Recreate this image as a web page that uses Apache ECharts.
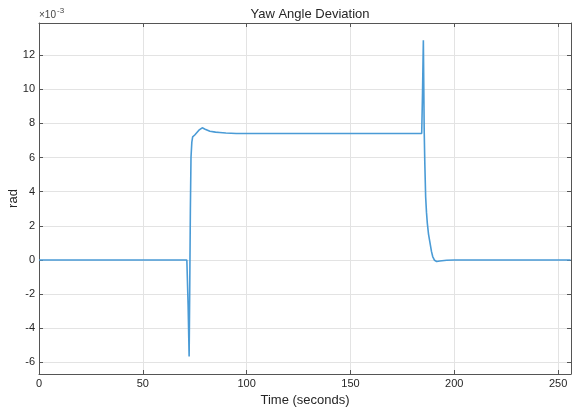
<!DOCTYPE html>
<html>
<head>
<meta charset="utf-8">
<script src="https://cdn.jsdelivr.net/npm/echarts@6/dist/echarts.min.js"></script>
<style>
  html, body { margin: 0; padding: 0; background: #fff; }
  #chart { width: 572px; height: 411px; }
</style>
</head>
<body>
<div id="chart"></div>
<script>
// Yaw angle deviation response (values in units of 1e-3 rad)
const timeSec = [0, 71.2, 71.8, 72.3, 72.6, 72.9, 73.2, 73.6, 74.0, 75.0, 75.8, 77.0, 78.6, 80.0, 82.3, 85.0, 87.0, 90.0, 95.0,
  184.3, 184.7, 185.1, 185.5, 185.8, 186.2, 186.6, 187.0, 187.6, 188.3, 189.0, 189.6, 190.5, 191.5, 193.0, 196.3, 200.0, 256.0];
const yawDev = [0, 0, -2.6, -5.65, -1.5, 3.0, 6.0, 6.9, 7.21, 7.32, 7.4, 7.6, 7.74, 7.66, 7.54, 7.49, 7.47, 7.44, 7.41,
  7.41, 9.8, 12.87, 7.6, 5.67, 3.7, 2.8, 2.16, 1.5, 1.0, 0.5, 0.2, -0.02, -0.09, -0.06, -0.02, 0, 0];
const xTicks = [0, 50, 100, 150, 200, 250];
const yTicks = [-6, -4, -2, 0, 2, 4, 6, 8, 10, 12];

const xRange = [0, 256.2];
const yRange = [-6.68, 13.88];

const font = 'Liberation Sans, Arial, Helvetica, sans-serif';
const axisColor = '#555555';
const textColor = '#262626';
const gridColor = '#e3e3e3';

const chart = echarts.init(document.getElementById('chart'), null, { renderer: 'canvas' });

const points = timeSec.map((t, i) => [t, yawDev[i]]);

function xAxisDef(pos, labels) {
  return {
    type: 'value', position: pos, min: xRange[0], max: xRange[1],
    name: labels ? 'Time (seconds)' : '', nameLocation: 'middle', nameGap: 20, nameMoveOverlap: false,
    nameTextStyle: { fontFamily: font, fontSize: 13, color: textColor, verticalAlign: 'top' },
    axisLine: { show: true, onZero: false, lineStyle: { color: axisColor, width: 1 } },
    axisTick: { show: true, inside: true, length: 4, customValues: xTicks, lineStyle: { color: axisColor } },
    axisLabel: { show: labels, customValues: xTicks, margin: 4, fontFamily: font, fontSize: 11, color: textColor },
    splitLine: { show: labels, lineStyle: { color: gridColor, width: 1 } }
  };
}
function yAxisDef(pos, labels) {
  return {
    type: 'value', position: pos, min: yRange[0], max: yRange[1],
    name: labels ? 'rad' : '', nameLocation: 'middle', nameGap: 19, nameMoveOverlap: false,
    nameTextStyle: { fontFamily: font, fontSize: 13, color: textColor },
    axisLine: { show: true, onZero: false, lineStyle: { color: axisColor, width: 1 } },
    axisTick: { show: true, inside: true, length: 4, customValues: yTicks, lineStyle: { color: axisColor } },
    axisLabel: { show: labels, customValues: yTicks, margin: 4, fontFamily: font, fontSize: 11, color: textColor },
    splitLine: { show: labels, lineStyle: { color: gridColor, width: 1 } }
  };
}

chart.setOption({
  animation: false,
  backgroundColor: '#ffffff',
  title: {
    text: 'Yaw Angle Deviation', left: 305, top: 3, textAlign: 'center',
    textStyle: { fontFamily: font, fontSize: 13, fontWeight: 'normal', color: textColor }
  },
  graphic: [
    { type: 'text', left: 39, top: 10, style: { text: '×10', fontFamily: font, fontSize: 10, fill: '#444444' } },
    { type: 'text', left: 57, top: 7, style: { text: '-3', fontFamily: font, fontSize: 8, fill: '#444444' } }
  ],
  grid: { left: 39, right: 1, top: 23, bottom: 37, containLabel: false, outerBoundsMode: 'none' },
  xAxis: [xAxisDef('bottom', true), xAxisDef('top', false)],
  yAxis: [yAxisDef('left', true), yAxisDef('right', false)],
  series: [{
    type: 'line', data: points, xAxisIndex: 0, yAxisIndex: 0,
    showSymbol: false, smooth: false,
    lineStyle: { color: '#4a9bd6', width: 1.6 },
    itemStyle: { color: '#4a9bd6' }
  }]
});
</script>
</body>
</html>
